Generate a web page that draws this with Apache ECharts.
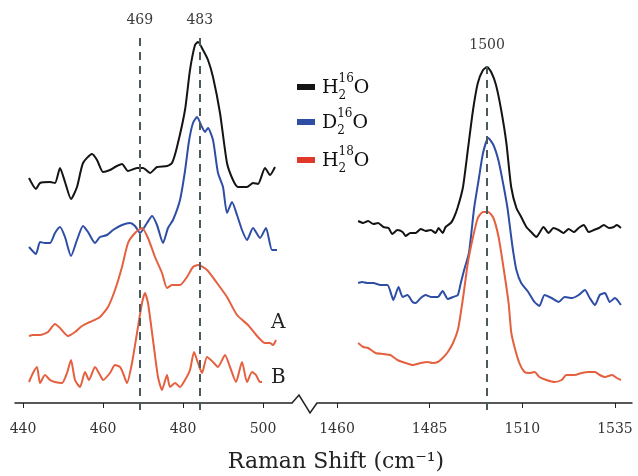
<!DOCTYPE html>
<html><head><meta charset="utf-8">
<script src="https://cdn.jsdelivr.net/npm/echarts@6/dist/echarts.min.js"></script>
<style>html,body{margin:0;padding:0;background:#fff}#c{width:638px;height:476px}</style>
</head><body><div id="c"></div>
<script>
// ---------- ticks / labels ----------
const leftTicks = [440, 460, 480, 500];
const rightTicks = [1460, 1485, 1510, 1535];
const leftPeaks = [[469.2, '469'], [484.2, '483']];
const rightPeaks = [[1500.5, '1500']];
const curveLabels = ['A', 'B'];
const legendParts = [['H', '16', '2', 'O'], ['D', '16', '2', 'O'], ['H', '18', '2', 'O']];
const axisTitle = 'Raman Shift (cm\u207B\u00B9)';

// ---------- spectra (x = Raman shift, y = offset intensity, arb. units) ----------
const h16Left = [[441.5,225],[443.25,214],[444.25,220],[446.75,221],[448,220],[449.25,235],[450.5,221],[452,204],[453.5,216],[455,240],[457.25,249],[458.5,243],[460,231],[461.75,233],[463,236],[464.75,239],[466.25,232],[468.5,235],[470,235],[471.75,230],[473.5,236],[476,237],[477.25,240],[478.5,256],[480.5,293],[481.75,333],[483,358],[483.75,361],[485,353],[486.25,343],[487.5,326],[489.25,290],[491,240],[492.5,223],[493.75,216],[496,216],[497.5,220],[498.75,219],[500.5,235],[501.75,228],[503,236]];
const d16Left = [[441.5,156],[443.25,149],[444.25,161],[445.5,160],[446.75,160],[448,170],[449.25,176],[450.5,166],[452,147],[453.5,163],[455,177],[456.25,171],[458,160],[459.25,166],[461,168],[462.5,173],[464.75,178],[466.75,180],[468,177],[469.25,170],[471,180],[472.25,187],[473.5,178],[475,160],[476.25,175],[477.5,183],[479.25,203],[480.5,232],[481.5,262],[482.5,280],[483.5,286],[484.75,276],[485.5,271],[486.25,275],[487.5,263],[488.75,230],[490,216],[491,190],[492.25,201],[493.5,188],[494.75,173],[496,163],[497.5,175],[499.25,165],[500.75,175],[502.25,153],[503.5,153]];
const h18LeftA = [[441.5,67],[442.5,68],[444.25,68],[446.25,71],[448,79],[449.25,75],[451.25,67],[453,71],[454.75,77],[456.75,81],[459.25,86],[461.25,96],[463,113],[464.75,136],[466.25,160],[468,170],[469.75,175],[471.25,165],[473,146],[474.75,130],[476,115],[477.25,118],[479.25,118],[481,126],[482.5,136],[483.75,138],[486,133],[488.5,120],[491,106],[493.5,88],[496.25,78],[498.75,66],[500.5,60],[501.75,60],[502.5,58],[503.25,63]];
const h18LeftB = [[441.5,21],[442.5,30],[443.5,36],[444.25,20],[445.5,28],[446.75,23],[448,21],[449.75,20],[451,30],[452,43],[453,23],[454.25,16],[455.5,31],[456.5,23],[458,36],[459.25,28],[460,23],[461.75,30],[463,38],[464.25,36],[465,30],[466,20],[467.25,40],[468.5,70],[469.75,100],[470.5,110],[471.25,100],[472.5,63],[473.75,26],[474.75,13],[476,28],[476.75,16],[478,20],[479.25,16],[480.5,23],[481.75,33],[482.75,51],[483.75,40],[484.75,30],[486,46],[487.5,41],[488.75,36],[490.5,48],[491.75,36],[493.25,21],[494.75,41],[496,21],[497.25,31],[498.25,28],[499.25,21],[499.75,21]];
const h16Right = [[1465.7,182],[1467.1,180],[1468.4,182],[1469.8,179],[1471.1,180],[1472.5,176],[1473.9,175],[1474.9,169],[1476.3,173],[1477.7,171],[1478.5,167],[1479.8,170],[1481.2,170],[1482.6,174],[1483.9,172],[1485.3,173],[1486.6,170],[1487.4,175],[1488.5,170],[1489.3,176],[1490.7,180],[1491.5,185],[1492.6,196],[1494.0,216],[1495.3,253],[1496.7,293],[1498.0,320],[1499.4,333],[1500.5,336],[1501.6,331],[1502.9,318],[1504.3,293],[1505.7,260],[1507.0,216],[1508.4,195],[1509.7,186],[1511.1,176],[1512.4,171],[1513.8,166],[1514.6,170],[1515.7,176],[1517.1,170],[1518.4,175],[1519.8,173],[1521.1,170],[1522.5,174],[1523.9,171],[1525.2,175],[1526.6,178],[1527.9,171],[1529.3,173],[1530.7,175],[1532.0,178],[1533.4,175],[1534.7,176],[1535.5,178],[1536.6,175]];
const d16Right = [[1465.7,120],[1466.8,121],[1468.2,120],[1469.8,120],[1471.7,118],[1473.6,118],[1474.7,108],[1475.2,103],[1476.6,116],[1477.7,106],[1479.0,108],[1480.4,101],[1481.2,100],[1482.6,105],[1483.9,108],[1485.3,106],[1487.2,106],[1488.5,112],[1489.9,104],[1491.3,106],[1492.6,108],[1493.4,120],[1494.3,133],[1495.6,150],[1497.0,195],[1498.3,225],[1499.4,250],[1500.8,265],[1502.2,258],[1503.6,242],[1504.9,218],[1506.0,195],[1507.0,166],[1507.6,150],[1508.4,133],[1509.7,120],[1511.6,111],[1513.3,101],[1514.6,97],[1516.0,108],[1517.9,105],[1519.8,101],[1521.4,106],[1523.4,105],[1525.2,108],[1526.9,113],[1528.2,105],[1529.6,98],[1530.9,108],[1532.3,110],[1533.6,101],[1535.0,105],[1536.6,98]];
const h18Right = [[1465.7,60],[1467.1,56],[1468.4,55],[1470.4,50],[1472.5,49],[1474.4,48],[1476.3,43],[1478.5,40],[1480.4,38],[1482.6,40],[1484.5,41],[1485.8,40],[1487.2,41],[1488.5,45],[1489.9,51],[1491.3,60],[1492.6,73],[1493.4,90],[1494.3,113],[1495.3,140],[1496.7,166],[1498.0,185],[1499.4,191],[1500.8,191],[1502.2,185],[1503.6,166],[1504.9,136],[1506.3,100],[1507.0,71],[1507.9,56],[1509.2,40],[1510.6,31],[1511.9,30],[1513.3,31],[1514.6,26],[1516.5,23],[1518.7,21],[1520.6,23],[1521.9,28],[1524.1,28],[1526.0,30],[1527.9,31],[1529.6,31],[1530.9,28],[1532.3,26],[1534.2,28],[1535.5,25],[1536.6,23]];

// ---------- styling ----------
const C_BLACK = '#141414', C_BLUE = '#2e4ea6', C_RED = '#e4603f', C_LEG_RED = '#e0392c', C_DASH = '#4a5a5c';
const TXT = '#333';
const SERIF = '"DejaVu Serif", "Liberation Serif", serif';
const chart = echarts.init(document.getElementById('c'), null, {renderer: 'canvas'});

function spec(data, color, idx, marks) {
  const s = {type: 'line', data: data, xAxisIndex: idx, yAxisIndex: idx, showSymbol: false, symbol: 'none',
    smooth: 0.2, lineStyle: {color: color, width: 2}, z: 3, silent: true};
  if (marks) s.markLine = marks;
  return s;
}
function peakLines(list, topVal) {
  return {symbol: 'none', silent: true, animation: false, z: 6,
      lineStyle: {type: [8, 6], color: C_DASH, width: 2},
      label: {show: true, position: 'end', formatter: '{b}', distance: 10, color: '#3a3a3a', fontFamily: SERIF, fontSize: 14},
      data: list.map(p => [{name: p[1], coord: [p[0], -7]}, {name: p[1], coord: [p[0], topVal]}])};
}
function xAx(min, max, ticks, idx) {
  return {type: 'value', gridIndex: idx, min: min, max: max,
    axisLine: {show: true, onZero: true, lineStyle: {color: '#222', width: 1.5}},
    axisTick: {show: true, length: 5, customValues: ticks, lineStyle: {color: '#222'}},
    axisLabel: {show: true, customValues: ticks, formatter: v => String(v), color: TXT, fontFamily: SERIF, fontSize: 14, margin: 12},
    splitLine: {show: false}};
}
function yAx(idx) {
  return {type: 'value', gridIndex: idx, min: -7, max: 383, show: false, splitLine: {show: false}};
}

// legend graphic
const meas = document.createElement('canvas').getContext('2d');
const legendRows = [87, 122, 160];
const legendColors = [C_BLACK, C_BLUE, C_LEG_RED];
const graphics = [];
legendParts.forEach((p, i) => {
  const y = legendRows[i];
  graphics.push({type: 'rect', shape: {x: 297, y: y - 3, width: 18, height: 6}, style: {fill: legendColors[i]}});
  const bigFont = '19px ' + SERIF, smallFont = '12px ' + SERIF;
  meas.font = '19px "DejaVu Serif"';
  const wBase = meas.measureText(p[0]).width;
  meas.font = '12px "DejaVu Serif"';
  const wSup = meas.measureText(p[1]).width;
  const x0 = 322;
  graphics.push({type: 'text', style: {text: p[0], x: x0, y: y + 1, font: bigFont, fill: '#111', textAlign: 'left', align: 'left', textVerticalAlign: 'middle', verticalAlign: 'middle'}});
  graphics.push({type: 'text', style: {text: p[1], x: x0 + wBase, y: y - 8, font: smallFont, fill: '#111', textAlign: 'left', align: 'left', textVerticalAlign: 'middle', verticalAlign: 'middle'}});
  graphics.push({type: 'text', style: {text: p[2], x: x0 + wBase, y: y + 9, font: smallFont, fill: '#111', textAlign: 'left', align: 'left', textVerticalAlign: 'middle', verticalAlign: 'middle'}});
  graphics.push({type: 'text', style: {text: p[3], x: x0 + wBase + wSup, y: y + 1, font: bigFont, fill: '#111', textAlign: 'left', align: 'left', textVerticalAlign: 'middle', verticalAlign: 'middle'}});
});
// curve labels A / B
[[curveLabels[0], 323], [curveLabels[1], 378]].forEach(l => {
  graphics.push({type: 'text', style: {text: l[0], x: 271, y: l[1], font: '20px ' + SERIF, fill: '#222', textAlign: 'left', align: 'left', textVerticalAlign: 'middle', verticalAlign: 'middle'}});
});
// axis break zigzag
graphics.push({type: 'polyline', shape: {points: [[292, 403], [299, 395], [310, 413], [317, 403]]}, style: {stroke: '#222', lineWidth: 1.5, fill: null}});
// axis title
graphics.push({type: 'text', style: {text: axisTitle, x: 336, y: 462, font: '22px ' + SERIF, fill: '#222', textAlign: 'center', align: 'center', textVerticalAlign: 'middle', verticalAlign: 'middle'}});

chart.setOption({
  backgroundColor: '#fff',
  animation: false,
  grid: [
    {left: 15, top: 20, width: 277, height: 390},
    {left: 317, top: 20, width: 315, height: 390}
  ],
  xAxis: [xAx(438, 507.25, leftTicks, 0), xAx(1454.6, 1539.6, rightTicks, 1)],
  yAxis: [yAx(0), yAx(1)],
  graphic: graphics,
  series: [
    spec(h16Left, C_BLACK, 0), spec(d16Left, C_BLUE, 0), spec(h18LeftA, C_RED, 0),
    spec(h18LeftB, C_RED, 0, peakLines(leftPeaks, 366)),
    spec(h16Right, C_BLACK, 1), spec(d16Right, C_BLUE, 1),
    spec(h18Right, C_RED, 1, peakLines(rightPeaks, 341))
  ]
});
</script></body></html>
